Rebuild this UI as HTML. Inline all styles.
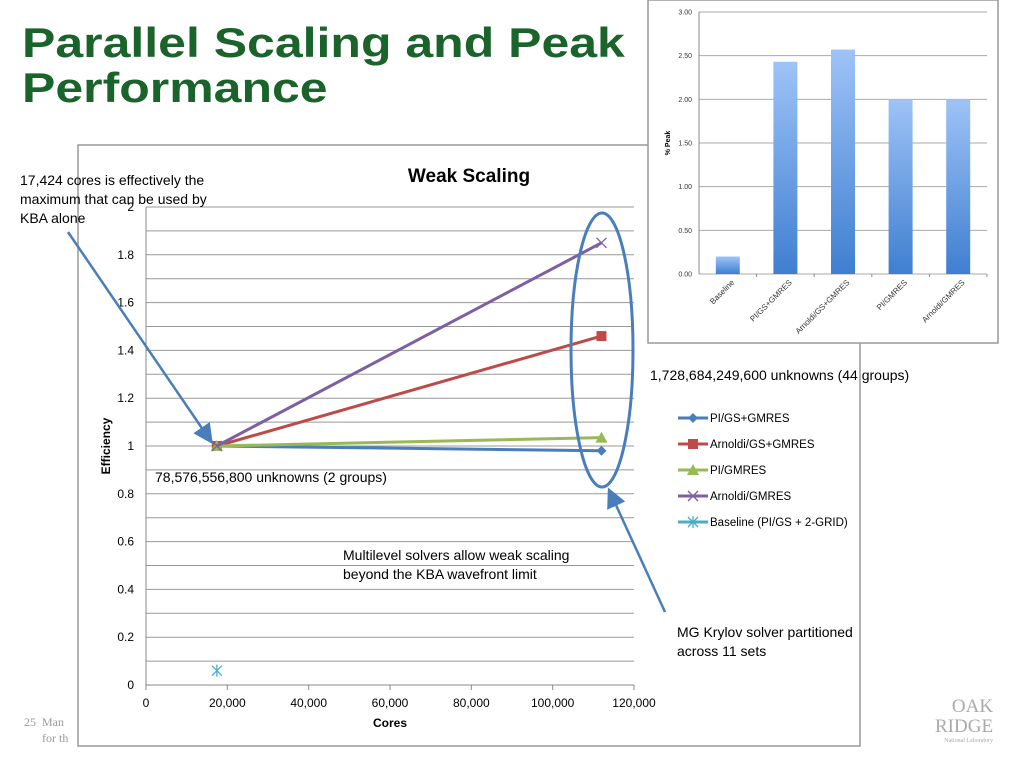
<!DOCTYPE html>
<html><head><meta charset="utf-8">
<style>
body{margin:0;width:1024px;height:768px;background:#fff;overflow:hidden;position:relative;font-family:"Liberation Sans",sans-serif}
.t{position:absolute}
</style></head><body>
<div class="t" style="left:22px;top:20px;font-size:42px;font-weight:bold;color:#1a642c;line-height:45px;transform:scaleX(1.19);transform-origin:0 0;white-space:nowrap">Parallel Scaling and Peak<br>Performance</div>
<svg id="main" width="1024" height="768" style="position:absolute;left:0;top:0"></svg>
<script>
// Weak scaling data
const coresStart = 17424;
const coresEnd = 112000;
const seriesNames = ["PI/GS+GMRES","Arnoldi/GS+GMRES","PI/GMRES","Arnoldi/GMRES","Baseline (PI/GS + 2-GRID)"];
const startEff = [1,1,1,1,0.06];
const endEff = [0.98,1.46,1.035,1.85,null];
const seriesColors = ["#4a7ebb","#be4b48","#98b954","#7d60a0","#4bacc6"];
const xTicks = [0,20000,40000,60000,80000,100000,120000];
const xTickLabels = ["0","20,000","40,000","60,000","80,000","100,000","120,000"];
const yTicks = [0,0.2,0.4,0.6,0.8,1,1.2,1.4,1.6,1.8,2];
const yTickLabels = ["0","0.2","0.4","0.6","0.8","1","1.2","1.4","1.6","1.8","2"];
// Peak bar chart data
const barCats = ["Baseline","PI/GS+GMRES","Arnoldi/GS+GMRES","PI/GMRES","Arnoldi/GMRES"];
const barVals = [0.2,2.43,2.57,2.0,2.0];
const barTicks = [0,0.5,1,1.5,2,2.5,3];
const barTickLabels = ["0.00","0.50","1.00","1.50","2.00","2.50","3.00"];

const NS="http://www.w3.org/2000/svg";
const svg=document.getElementById('main');
function mk(tag,attrs,parent){const e=document.createElementNS(NS,tag);for(const k in attrs)e.setAttribute(k,attrs[k]);(parent||svg).appendChild(e);return e;}
const X=v=>146+v/120000*488;
const Y=v=>685-v/2*478;

let fr=mk('rect',{x:78,y:145,width:782,height:601,fill:'#fff',stroke:'#999','stroke-width':1.5});


for(let i=1;i<=20;i++){
  let g=mk('line',{x1:146,x2:634,y1:Y(i/10),y2:Y(i/10),stroke:'#999','stroke-width':1});
  
  
}
mk('line',{x1:146,x2:146,y1:Y(2),y2:Y(0),stroke:'#888'});
mk('line',{x1:146,x2:634,y1:Y(0),y2:Y(0),stroke:'#888'});
yTicks.forEach((v,i)=>{
  let t=mk('text',{x:134,y:Y(v)+4,'text-anchor':'end','font-size':12,fill:'#000'});
  t.textContent=yTickLabels[i];
  
  
});
xTicks.forEach((v,i)=>{
  mk('line',{x1:X(v),x2:X(v),y1:Y(0),y2:Y(0)+5,stroke:'#888'});
  let t=mk('text',{x:X(v),y:707,'text-anchor':'middle','font-size':12,fill:'#000'});
  t.textContent=xTickLabels[i];
  
  
});
let tt=mk('text',{x:469,y:182,'text-anchor':'middle','font-size':19,'font-weight':'bold',fill:'#000'});
tt.textContent='Weak Scaling';


let xa=mk('text',{x:390,y:727,'text-anchor':'middle','font-size':12,'font-weight':'bold'});
xa.textContent='Cores';


let ya=mk('text',{x:0,y:0,'text-anchor':'middle','font-size':12,'font-weight':'bold',transform:'translate(110,446) rotate(-90)'});
ya.textContent='Efficiency';



function marker(i,x,y,g){
  const c=seriesColors[i];
  if(i===0)mk('polygon',{points:`${x},${y-5} ${x+5},${y} ${x},${y+5} ${x-5},${y}`,fill:c},g);
  else if(i===1)mk('rect',{x:x-5,y:y-5,width:10,height:10,fill:c},g);
  else if(i===2)mk('polygon',{points:`${x},${y-6} ${x+6},${y+5} ${x-6},${y+5}`,fill:c},g);
  else if(i===3){mk('line',{x1:x-5,y1:y-5,x2:x+5,y2:y+5,stroke:c,'stroke-width':1.3},g);mk('line',{x1:x-5,y1:y+5,x2:x+5,y2:y-5,stroke:c,'stroke-width':1.3},g);}
  else {mk('line',{x1:x-5,y1:y-5,x2:x+5,y2:y+5,stroke:c,'stroke-width':1.3},g);mk('line',{x1:x-5,y1:y+5,x2:x+5,y2:y-5,stroke:c,'stroke-width':1.3},g);mk('line',{x1:x,y1:y-6,x2:x,y2:y+6,stroke:c,'stroke-width':1.3},g);}
}
[4,0,1,2,3].forEach(i=>{
  const g=mk('g',{});
  
  
  if(endEff[i]!==null) mk('line',{x1:X(coresStart),y1:Y(startEff[i]),x2:X(coresEnd),y2:Y(endEff[i]),stroke:seriesColors[i],'stroke-width':3},g);
  marker(i,X(coresStart),Y(startEff[i]),g);
  if(endEff[i]!==null) marker(i,X(coresEnd),Y(endEff[i]),g);
});
seriesNames.forEach((n,i)=>{
  const y=418+i*26;
  const g=mk('g',{});
  
  
  mk('line',{x1:678,x2:708,y1:y,y2:y,stroke:seriesColors[i],'stroke-width':3},g);
  marker(i,693,y,g);
  const t=mk('text',{x:710,y:y+4,'font-size':11.5,fill:'#000'},g);
  t.textContent=n;
});

const bg=mk('g',{});


mk('rect',{x:648,y:0,width:350,height:343,fill:'#fff',stroke:'#999','stroke-width':1.5},bg);
const BY=v=>274-v/3*262;
const bx0=699,bx1=987,bw=(bx1-bx0)/barCats.length;
const defs=mk('defs',{});
const lg=mk('linearGradient',{id:'bgr',x1:0,y1:0,x2:0,y2:1},defs);
mk('stop',{offset:0,'stop-color':'#9ec3f7'},lg);mk('stop',{offset:1,'stop-color':'#3f7fd0'},lg);
barTicks.forEach((v,i)=>{
  mk('line',{x1:bx0,x2:bx1,y1:BY(v),y2:BY(v),stroke:'#aaa'},bg);
  const t=mk('text',{x:692,y:BY(v)+2.5,'text-anchor':'end','font-size':7,fill:'#333'},bg);
  t.textContent=barTickLabels[i];
});
mk('line',{x1:bx0,x2:bx0,y1:BY(3),y2:BY(0),stroke:'#888'},bg);
barVals.forEach((v,i)=>{
  const r=mk('rect',{x:bx0+bw*i+bw/2-12,y:BY(v),width:24,height:BY(0)-BY(v),fill:'url(#bgr)'},bg);
  
  
  mk('line',{x1:bx0+bw*(i+1),x2:bx0+bw*(i+1),y1:274,y2:277,stroke:'#888'},bg);
  const cx=bx0+bw*i+bw/2+7,cy=283;
  const t=mk('text',{x:cx,y:cy,'text-anchor':'end','font-size':8,fill:'#333',transform:`rotate(-45 ${cx} ${cy})`},bg);
  t.textContent=barCats[i];
});
const byt=mk('text',{x:0,y:0,'text-anchor':'middle','font-size':7,'font-weight':'bold',transform:'translate(670,143) rotate(-90)'},bg);
byt.textContent='% Peak';

const ac='#4a7ebb';
let el=mk('ellipse',{cx:602,cy:350,rx:31,ry:137,fill:'none',stroke:ac,'stroke-width':3});


mk('defs',{}).innerHTML='<marker id="ah" markerWidth="8" markerHeight="8" refX="6" refY="4" orient="auto"><path d="M0,0 L8,4 L0,8 Z" fill="'+ac+'"/></marker>';
let a1=mk('line',{x1:68,y1:232,x2:210,y2:440,stroke:ac,'stroke-width':2.5,'marker-end':'url(#ah)'});


let a2=mk('line',{x1:665,y1:612,x2:610,y2:492,stroke:ac,'stroke-width':2.5,'marker-end':'url(#ah)'});


</script>
<div class="t" style="left:20px;top:171px;font-size:14px;line-height:19px;width:200px">17,424 cores is effectively the maximum that can be used by KBA alone</div>
<div class="t" style="left:650px;top:367px;font-size:14px">1,728,684,249,600 unknowns (44 groups)</div>
<div class="t" style="left:155px;top:469px;font-size:14px">78,576,556,800 unknowns (2 groups)</div>
<div class="t" style="left:343px;top:546px;font-size:14px;line-height:19px">Multilevel solvers allow weak scaling<br>beyond the KBA wavefront limit</div>
<div class="t" style="left:677px;top:623px;font-size:14px;line-height:19px">MG Krylov solver partitioned<br>across 11 sets</div>
<div class="t" style="left:24px;top:714px;font-family:'Liberation Serif',serif;font-size:12px;color:#999;line-height:16px">25&nbsp;&nbsp;Man<br>&nbsp;&nbsp;&nbsp;&nbsp;&nbsp;&nbsp;for th</div>
<div class="t" style="left:935px;top:697px;font-family:'Liberation Serif',serif;color:#aaa;font-size:19px;line-height:20px;text-align:right">OAK<br>RIDGE<div style="font-size:6px;line-height:8px">National Laboratory</div></div>
</body></html>
